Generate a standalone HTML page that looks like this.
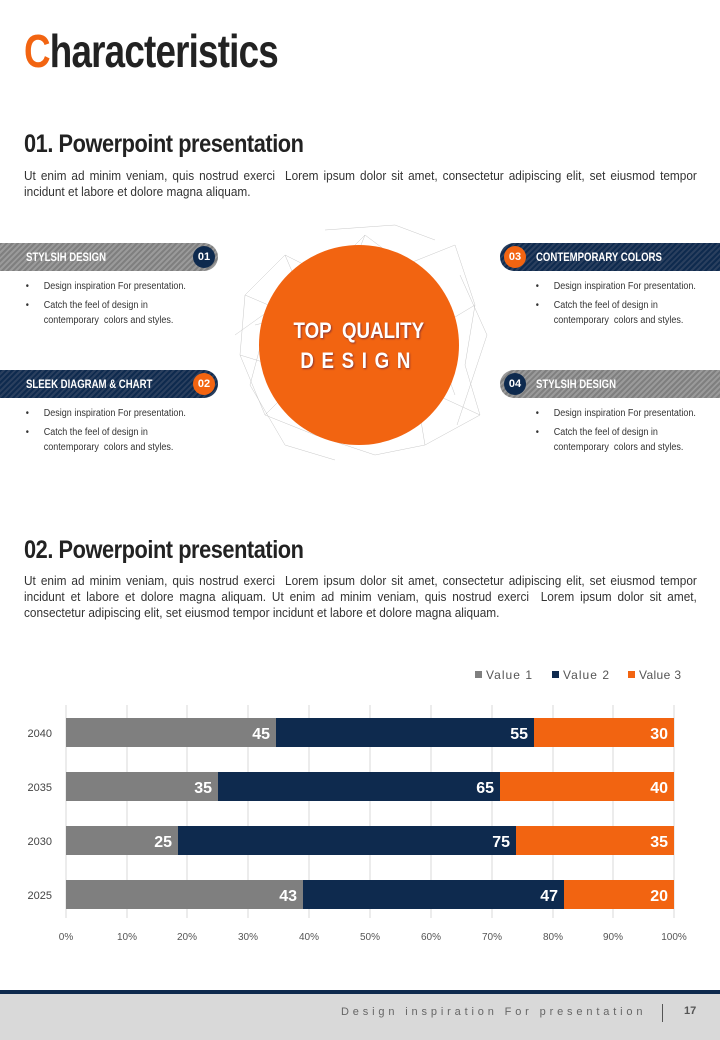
<!DOCTYPE html>
<html><head><meta charset="utf-8"><style>
*{margin:0;padding:0;box-sizing:border-box}
body{width:720px;height:1040px;background:#fff;position:relative;overflow:hidden;font-family:"Liberation Sans Narrow","Liberation Sans",sans-serif;color:#333}
.a{position:absolute}
.sx{transform-origin:0 0}
.h1{left:24px;top:24px;font-size:46px;font-weight:bold;color:#222;letter-spacing:-1px;transform:scaleX(0.8)}
.h2{left:24px;font-size:25px;font-weight:bold;color:#222;letter-spacing:-0.5px;transform:scaleX(0.87)}
.p{left:24px;width:712px;font-size:12.5px;line-height:16px;text-align:justify;color:#333;transform:scaleX(0.945)}
.ban{height:28px;color:#fff;font-weight:bold;font-size:12px;line-height:28px}
.ban span{display:inline-block;transform:scaleX(0.8);transform-origin:0 50%;white-space:nowrap}
.g{background:repeating-linear-gradient(135deg,#7f7f7f 0 2px,#9a9a9a 2px 4px)}
.n{background:repeating-linear-gradient(135deg,#0e2a4e 0 2px,#2a3f5e 2px 4px)}
.c{width:22px;height:22px;border-radius:50%;color:#fff;font-size:11px;font-weight:bold;text-align:center;line-height:22px;top:3px}
ul{list-style:none;font-size:10px;color:#333;line-height:15px;transform:scaleX(0.9);transform-origin:0 0}
ul li{position:relative;padding-left:22px;margin-bottom:4px}
ul li:before{content:"•";position:absolute;left:2px}
</style></head><body>
<div class="a h1 sx"><span style="color:#f26411">C</span>haracteristics</div>
<div class="a h2 sx" style="top:130px">01. Powerpoint presentation</div>
<div class="a p sx" style="top:168px">Ut enim ad minim veniam, quis nostrud exerci&nbsp; Lorem ipsum dolor sit amet, consectetur adipiscing elit, set eiusmod tempor incidunt et labore et dolore magna aliquam.</div>

<svg class="a" style="left:225px;top:215px" width="270" height="250">
<g stroke="#c8c8c8" stroke-width="0.5" fill="none">
<path d="M20 80 L60 40 L100 60 L140 20 L180 50 L230 30 L250 90 L240 150 L255 200 L200 230 L150 240 L90 220 L40 200 L15 140 Z M60 40 L90 110 L20 80 M180 50 L200 120 L250 90 M40 200 L80 160 L15 140 M200 230 L190 170 L255 200 M140 20 L120 70 L180 50 M30 110 L70 100 M230 180 L215 140 M10 120 L45 95 L25 170 L60 230 L110 245 M235 60 L262 120 L232 210 M100 15 L170 10 L210 25"/>
</g></svg>
<div class="a" style="left:259px;top:245px;width:200px;height:200px;border-radius:50%;background:#f26411"></div>
<div class="a" style="left:259px;top:316px;width:200px;text-align:center;color:#fff;font-weight:bold;font-size:22px;line-height:30px;text-shadow:1px 1px 2px #833"><span style="display:inline-block;transform:scaleX(0.85)">TOP&nbsp; QUALITY</span><br><span style="letter-spacing:9px;display:inline-block;transform:scaleX(0.85)">DESIGN</span></div>

<div class="a ban g" style="left:0;top:243px;width:218px;border-radius:0 14px 14px 0;padding-left:26px"><span>STYLSIH DESIGN</span><div class="a c" style="left:193px;background:#0e2a4e">01</div></div>
<div class="a ban n" style="left:0;top:370px;width:218px;border-radius:0 14px 14px 0;padding-left:26px"><span>SLEEK DIAGRAM &amp; CHART</span><div class="a c" style="left:193px;background:#f26411">02</div></div>
<div class="a ban n" style="left:500px;top:243px;width:220px;border-radius:14px 0 0 14px;padding-left:36px"><span>CONTEMPORARY COLORS</span><div class="a c" style="left:4px;background:#f26411">03</div></div>
<div class="a ban g" style="left:500px;top:370px;width:220px;border-radius:14px 0 0 14px;padding-left:36px"><span>STYLSIH DESIGN</span><div class="a c" style="left:4px;background:#0e2a4e">04</div></div>

<ul class="a" style="left:24px;top:279px"><li>Design inspiration For presentation.</li><li>Catch the feel of design in<br>contemporary &nbsp;colors and styles.</li></ul>
<ul class="a" style="left:24px;top:406px"><li>Design inspiration For presentation.</li><li>Catch the feel of design in<br>contemporary &nbsp;colors and styles.</li></ul>
<ul class="a" style="left:534px;top:279px"><li>Design inspiration For presentation.</li><li>Catch the feel of design in<br>contemporary &nbsp;colors and styles.</li></ul>
<ul class="a" style="left:534px;top:406px"><li>Design inspiration For presentation.</li><li>Catch the feel of design in<br>contemporary &nbsp;colors and styles.</li></ul>

<div class="a h2 sx" style="top:536px">02. Powerpoint presentation</div>
<div class="a p sx" style="top:573px">Ut enim ad minim veniam, quis nostrud exerci&nbsp; Lorem ipsum dolor sit amet, consectetur adipiscing elit, set eiusmod tempor incidunt et labore et dolore magna aliquam. Ut enim ad minim veniam, quis nostrud exerci&nbsp; Lorem ipsum dolor sit amet, consectetur adipiscing elit, set eiusmod tempor incidunt et labore et dolore magna aliquam.</div>

<svg class="a" style="left:0;top:660px" width="720" height="300" font-family="Liberation Sans Narrow, Liberation Sans, sans-serif">
<g font-size="12" fill="#555">
<rect x="475" y="11" width="7" height="7" fill="#7f7f7f"/><text x="486" y="19" textLength="46">Value  1</text>
<rect x="552" y="11" width="7" height="7" fill="#0e2a4e"/><text x="563" y="19" textLength="46">Value  2</text>
<rect x="628" y="11" width="7" height="7" fill="#f26411"/><text x="639" y="19" textLength="42">Value 3</text>
</g>
<g stroke="#d9d9d9" stroke-width="1">
<line x1="66" y1="45" x2="66" y2="258"/><line x1="127" y1="45" x2="127" y2="258"/><line x1="187" y1="45" x2="187" y2="258"/><line x1="248" y1="45" x2="248" y2="258"/><line x1="309" y1="45" x2="309" y2="258"/><line x1="370" y1="45" x2="370" y2="258"/><line x1="431" y1="45" x2="431" y2="258"/><line x1="492" y1="45" x2="492" y2="258"/><line x1="553" y1="45" x2="553" y2="258"/><line x1="613" y1="45" x2="613" y2="258"/><line x1="674" y1="45" x2="674" y2="258"/>
</g>
<g>
<rect x="66" y="58" width="210" height="29" fill="#7f7f7f"/><rect x="276" y="58" width="258" height="29" fill="#0e2a4e"/><rect x="534" y="58" width="140" height="29" fill="#f26411"/>
<rect x="66" y="112" width="152" height="29" fill="#7f7f7f"/><rect x="218" y="112" width="282" height="29" fill="#0e2a4e"/><rect x="500" y="112" width="174" height="29" fill="#f26411"/>
<rect x="66" y="166" width="112" height="29" fill="#7f7f7f"/><rect x="178" y="166" width="338" height="29" fill="#0e2a4e"/><rect x="516" y="166" width="158" height="29" fill="#f26411"/>
<rect x="66" y="220" width="237" height="29" fill="#7f7f7f"/><rect x="303" y="220" width="261" height="29" fill="#0e2a4e"/><rect x="564" y="220" width="110" height="29" fill="#f26411"/>
</g>
<g fill="#fff" font-size="16" font-weight="bold" text-anchor="end">
<text x="270" y="79">45</text><text x="528" y="79">55</text><text x="668" y="79">30</text>
<text x="212" y="133">35</text><text x="494" y="133">65</text><text x="668" y="133">40</text>
<text x="172" y="187">25</text><text x="510" y="187">75</text><text x="668" y="187">35</text>
<text x="297" y="241">43</text><text x="558" y="241">47</text><text x="668" y="241">20</text>
</g>
<g fill="#444" font-size="11" text-anchor="end">
<text x="52" y="77">2040</text><text x="52" y="131">2035</text><text x="52" y="185">2030</text><text x="52" y="239">2025</text>
</g>
<g fill="#555" font-size="10" text-anchor="middle">
<text x="66" y="280">0%</text><text x="127" y="280">10%</text><text x="187" y="280">20%</text><text x="248" y="280">30%</text><text x="309" y="280">40%</text><text x="370" y="280">50%</text><text x="431" y="280">60%</text><text x="492" y="280">70%</text><text x="553" y="280">80%</text><text x="613" y="280">90%</text><text x="674" y="280">100%</text>
</g>
</svg>

<div class="a" style="left:0;top:990px;width:720px;height:4px;background:#0e2a4e"></div>
<div class="a" style="left:0;top:994px;width:720px;height:46px;background:#d9d9d9"></div>
<div class="a" style="left:341px;top:1006px;font-size:11px;letter-spacing:3.85px;color:#666;white-space:nowrap">Design inspiration For presentation</div>
<div class="a" style="left:662px;top:1004px;width:1px;height:18px;background:#555"></div>
<div class="a" style="left:684px;top:1005px;font-size:11px;font-weight:bold;color:#555">17</div>
</body></html>
